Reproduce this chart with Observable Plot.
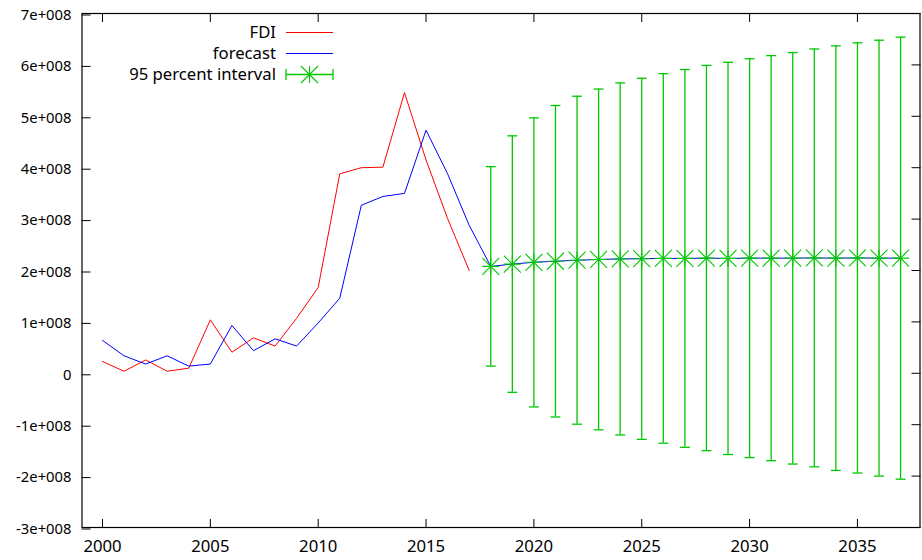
<!DOCTYPE html>
<html>
<head>
<meta charset="utf-8">
<script src="https://cdn.jsdelivr.net/npm/d3@7"></script>
<script src="https://cdn.jsdelivr.net/npm/@observablehq/plot@0.6"></script>
<style>
  html, body { margin: 0; padding: 0; background: #fff; }
  #chart { position: relative; width: 922px; height: 560px; }
</style>
</head>
<body>
<div id="chart"></div>
<script>
// ---- Data ----
const fdiYears = [2000, 2001, 2002, 2003, 2004, 2005, 2006, 2007, 2008, 2009,
                  2010, 2011, 2012, 2013, 2014, 2015, 2016, 2017];
const fdiValues = [2.3e7, 4e6, 2.6e7, 4e6, 1.0e7, 1.04e8, 4.1e7, 6.9e7, 5.3e7, 1.07e8,
                   1.67e8, 3.88e8, 4.0e8, 4.01e8, 5.46e8, 4.15e8, 3.01e8, 2.0e8];

const forecastYears = [2000, 2001, 2002, 2003, 2004, 2005, 2006, 2007, 2008, 2009,
                       2010, 2011, 2012, 2013, 2014, 2015, 2016, 2017, 2018, 2019,
                       2020, 2021, 2022, 2023, 2024, 2025, 2026, 2027, 2028, 2029,
                       2030, 2031, 2032, 2033, 2034, 2035, 2036, 2037];
const forecastValues = [6.4e7, 3.4e7, 1.8e7, 3.4e7, 1.4e7, 1.8e7, 9.3e7, 4.4e7, 6.7e7, 5.3e7,
                        9.8e7, 1.46e8, 3.27e8, 3.44e8, 3.5e8, 4.73e8, 3.88e8, 2.88e8, 2.08e8, 2.125e8,
                        2.16e8, 2.18e8, 2.2e8, 2.215e8, 2.225e8, 2.23e8, 2.235e8, 2.235e8, 2.24e8, 2.235e8,
                        2.24e8, 2.24e8, 2.24e8, 2.245e8, 2.24e8, 2.245e8, 2.24e8, 2.24e8];

const intervalYears = [2018, 2019, 2020, 2021, 2022, 2023, 2024, 2025, 2026, 2027,
                       2028, 2029, 2030, 2031, 2032, 2033, 2034, 2035, 2036, 2037];
const intervalCenter = [2.08e8, 2.125e8, 2.16e8, 2.18e8, 2.2e8, 2.215e8, 2.225e8, 2.23e8, 2.235e8, 2.235e8,
                        2.24e8, 2.235e8, 2.24e8, 2.24e8, 2.24e8, 2.245e8, 2.24e8, 2.245e8, 2.24e8, 2.24e8];
const intervalLow = [0.14e8, -0.37e8, -0.655e8, -0.85e8, -0.99e8, -1.10e8, -1.20e8, -1.285e8, -1.36e8, -1.44e8,
                     -1.505e8, -1.58e8, -1.64e8, -1.70e8, -1.765e8, -1.82e8, -1.89e8, -1.94e8, -2.00e8, -2.06e8];
const intervalHigh = [4.02e8, 4.62e8, 4.97e8, 5.21e8, 5.39e8, 5.53e8, 5.65e8, 5.74e8, 5.83e8, 5.91e8,
                      5.99e8, 6.05e8, 6.12e8, 6.18e8, 6.24e8, 6.31e8, 6.37e8, 6.43e8, 6.48e8, 6.54e8];

const xTicks = [2000, 2005, 2010, 2015, 2020, 2025, 2030, 2035];
const yTicks = [-3e8, -2e8, -1e8, 0, 1e8, 2e8, 3e8, 4e8, 5e8, 6e8, 7e8];
const seriesNames = ["FDI", "forecast", "95 percent interval"];

// ---- Tables ----
const fdi = fdiYears.map((year, i) => ({year, value: fdiValues[i]}));
const forecast = forecastYears.map((year, i) => ({year, value: forecastValues[i]}));
const interval = intervalYears.map((year, i) => ({
  year, center: intervalCenter[i], low: intervalLow[i], high: intervalHigh[i]
}));

const RED = "#ff0000", BLUE = "#0000ff", GREEN = "#00c800";
const CAP = 0.23; // half cap width in years
const fmtY = v => v === 0 ? "0" : `${v / 1e8}e+008`;

const chart = Plot.plot({
  width: 922,
  height: 560,
  marginLeft: 81.5,
  marginRight: 2.5,
  marginTop: 13,
  marginBottom: 33,
  style: {fontFamily: "'Noto Sans', sans-serif", fontSize: "16.7px", color: "#000", background: "#fff"},
  x: {domain: [1999.05, 2037.9], label: null},
  y: {domain: [-3e8, 7e8], label: null},
  marks: [
    // axes with inward (mirrored) ticks
    Plot.axisY({anchor: "left", ticks: yTicks, tickFormat: fmtY, tickSize: -9, tickPadding: 19.5,
                fontSize: 14.8, dy: 1.5, label: null, stroke: "#000"}),
    Plot.axisY({anchor: "right", ticks: yTicks, tickSize: -9, fill: "none", label: null, stroke: "#000"}),
    Plot.axisX({anchor: "bottom", ticks: xTicks, tickFormat: d => String(d), tickSize: -8, tickPadding: 21,
                fontSize: 16.7, label: null, stroke: "#000"}),
    Plot.axisX({anchor: "top", ticks: xTicks, tickSize: -8, fill: "none", label: null, stroke: "#000"}),
    Plot.frame({stroke: "#000", strokeWidth: 1.2}),

    // 95 percent interval error bars
    Plot.ruleX(interval, {x: "year", y1: "low", y2: "high", stroke: GREEN, strokeWidth: 1.3}),
    Plot.link(interval, {x1: d => d.year - CAP, x2: d => d.year + CAP, y1: "high", y2: "high", stroke: GREEN, strokeWidth: 1.3}),
    Plot.link(interval, {x1: d => d.year - CAP, x2: d => d.year + CAP, y1: "low", y2: "low", stroke: GREEN, strokeWidth: 1.3}),

    // series lines
    Plot.line(fdi, {x: "year", y: "value", stroke: RED, strokeWidth: 1}),
    Plot.line(forecast, {x: "year", y: "value", stroke: BLUE, strokeWidth: 1}),

    // asterisk points (plus + times)
    Plot.dot(interval, {x: "year", y: "center", symbol: "plus", r: 5.53, stroke: GREEN, strokeWidth: 1.1}),
    Plot.dot(interval, {x: "year", y: "center", symbol: "times", r: 7.78, stroke: GREEN, strokeWidth: 1.1})
  ]
});

document.getElementById("chart").appendChild(chart);

// ---- Legend (drawn inside the chart's svg, top-left of plot area) ----
const svg = d3.select(chart);
const legend = svg.append("g")
  .attr("font-family", "'Noto Sans', sans-serif")
  .attr("font-size", "16.7px")
  .attr("fill", "#000");
const rowsY = [32.5, 53.5, 74.5];
const textRight = 276, sampleX1 = 286, sampleX2 = 333;
seriesNames.forEach((name, i) => {
  const y = rowsY[i];
  legend.append("text")
    .attr("x", textRight).attr("y", y)
    .attr("text-anchor", "end")
    .attr("dy", "0.35em")
    .text(name);
  const color = [RED, BLUE, GREEN][i];
  legend.append("line")
    .attr("x1", sampleX1).attr("x2", sampleX2).attr("y1", y).attr("y2", y)
    .attr("stroke", color).attr("stroke-width", i === 2 ? 1.3 : 1);
  if (i === 2) {
    [sampleX1, sampleX2].forEach(x => legend.append("line")
      .attr("x1", x).attr("x2", x).attr("y1", y - 5.5).attr("y2", y + 5.5)
      .attr("stroke", color).attr("stroke-width", 1.3));
    const cx = (sampleX1 + sampleX2) / 2, h = 8.5;
    legend.append("path")
      .attr("d", `M${cx - h},${y}H${cx + h}M${cx},${y - h}V${y + h}M${cx - h},${y - h}L${cx + h},${y + h}M${cx - h},${y + h}L${cx + h},${y - h}`)
      .attr("stroke", color).attr("stroke-width", 1.1).attr("fill", "none");
  }
});
</script>
</body>
</html>
